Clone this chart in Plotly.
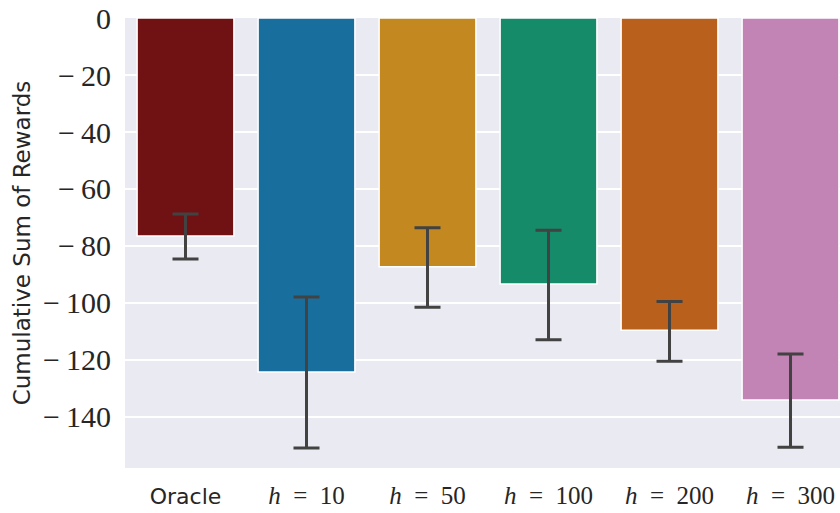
import plotly.graph_objects as go

categories = ["Oracle", "h=10", "h=50", "h=100", "h=200", "h=300"]
tick_labels = ["<span style='font-family:DejaVu Sans;font-size:22px'>Oracle</span>",
               "<i>h</i>\u2002=\u200210", "<i>h</i>\u2002=\u200250", "<i>h</i>\u2002=\u2002100",
               "<i>h</i>\u2002=\u2002200", "<i>h</i>\u2002=\u2002300"]
means = [-76.5, -124.2, -87.3, -93.3, -109.6, -134.0]
err_upper = [-68.8, -97.9, -73.6, -74.5, -99.5, -117.9]
err_lower = [-84.6, -150.9, -101.5, -112.9, -120.4, -150.6]
colors = ["#701213", "#186e9c", "#c3881f", "#168b6a", "#b9601d", "#c283b5"]
y_ticks = [0, -20, -40, -60, -80, -100, -120, -140]
y_tick_labels = ["0", "\u2212\u200920", "\u2212\u200940", "\u2212\u200960", "\u2212\u200980",
                 "\u2212\u2009100", "\u2212\u2009120", "\u2212\u2009140"]

xs = list(range(len(categories)))
plus = [u - m for u, m in zip(err_upper, means)]
minus = [m - l for m, l in zip(means, err_lower)]

fig = go.Figure()
fig.add_trace(go.Bar(
    x=xs, y=means, width=0.8,
    marker=dict(color=colors, line=dict(color="white", width=1.5)),
    error_y=dict(type="data", symmetric=False, array=plus, arrayminus=minus,
                 color="#424242", thickness=3, width=13),
    showlegend=False,
    hoverinfo="skip",
))

fig.update_layout(
    width=840, height=513,
    margin=dict(l=125, r=0, t=18, b=45),
    paper_bgcolor="white", plot_bgcolor="#eaeaf2",
    font=dict(family="Liberation Serif", size=25, color="#262626"),
    xaxis=dict(range=[-0.5, 5.409], tickvals=xs, ticktext=tick_labels,
               showgrid=False, zeroline=False, ticks="", ticklen=0,
               ticklabelstandoff=10,
               tickfont=dict(family="Liberation Serif", size=25)),
    yaxis=dict(range=[-157.9, 0], tickvals=y_ticks, ticktext=y_tick_labels,
               showgrid=True, gridcolor="white", gridwidth=1.5, zeroline=False,
               ticks="", ticklen=0, ticklabelstandoff=13,
               title=dict(text="Cumulative Sum of Rewards",
                          font=dict(family="DejaVu Sans", size=23), standoff=6),
               tickfont=dict(family="Liberation Serif", size=30)),
)

fig.write_html("out.html", config={"displayModeBar": False},
               post_script="document.body.style.margin='0px';")
